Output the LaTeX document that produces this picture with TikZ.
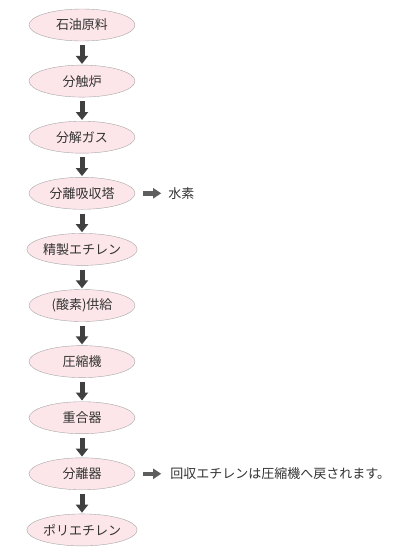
\documentclass[tikz,border=0pt]{standalone}
\usepackage{fontspec}
\setmainfont{Noto Sans CJK JP}
\usetikzlibrary{positioning,shapes.geometric,arrows.meta}
\definecolor{stagefill}{HTML}{FCE6E9}
\definecolor{stageline}{HTML}{A6A6A6}
\definecolor{flowgray}{HTML}{404040}
\definecolor{sidegray}{HTML}{5E5E5E}
\definecolor{textgray}{HTML}{333333}
\tikzset{
	stage/.style={ellipse,draw=stageline,fill=stagefill,minimum width=106pt,minimum height=32pt,inner sep=0pt,text=textgray,font=\fontsize{13}{15}\selectfont},
	flow/.style={draw=flowgray,line width=5pt,-{Triangle[length=8pt,width=12pt]},shorten <=4pt,shorten >=1pt},
	side/.style={draw=sidegray,line width=4.5pt,-{Triangle[length=8pt,width=10pt]}},
	note/.style={anchor=west,inner sep=0pt,text=textgray,font=\fontsize{13}{15}\selectfont}
}
\begin{document}
\begin{tikzpicture}[x=1pt,y=-1pt,node distance=23.7pt]
				\useasboundingbox (0,0) rectangle (400,560);
				\node[stage] (feed) at (82,25) {石油原料};
				\node[stage,below=of feed] (furnace) {分触炉};
				\node[stage,below=of furnace] (crackgas) {分解ガス};
				\node[stage,below=of crackgas] (absorber) {分離吸収塔};
				\node[stage,below=of absorber] (ethylene) {精製エチレン};
				\node[stage,below=of ethylene] (supply) {(酸素)供給};
				\node[stage,below=of supply] (compressor) {圧縮機};
				\node[stage,below=of compressor] (reactor) {重合器};
				\node[stage,below=of reactor] (separator) {分離器};
				\node[stage,below=of separator] (product) {ポリエチレン};
				\draw[flow] (feed) -- (furnace);
				\draw[flow] (furnace) -- (crackgas);
				\draw[flow] (crackgas) -- (absorber);
				\draw[flow] (absorber) -- (ethylene);
				\draw[flow] (ethylene) -- (supply);
				\draw[flow] (supply) -- (compressor);
				\draw[flow] (compressor) -- (reactor);
				\draw[flow] (reactor) -- (separator);
				\draw[flow] (separator) -- (product);
				\path ([xshift=8pt]absorber.east) coordinate (H1) ([xshift=26pt]absorber.east) coordinate (H2);
				\path ([xshift=8pt]separator.east) coordinate (R1) ([xshift=26pt]separator.east) coordinate (R2);
				\node[note] (hydrogen) at ([xshift=7pt]H2) {水素};
				\node[note] (recycle) at ([xshift=9pt]R2) {回収エチレンは圧縮機へ戻されます。};
				\draw[side] (H1) -- (H2);
				\draw[side] (R1) -- (R2);
			\end{tikzpicture}
\end{document}
